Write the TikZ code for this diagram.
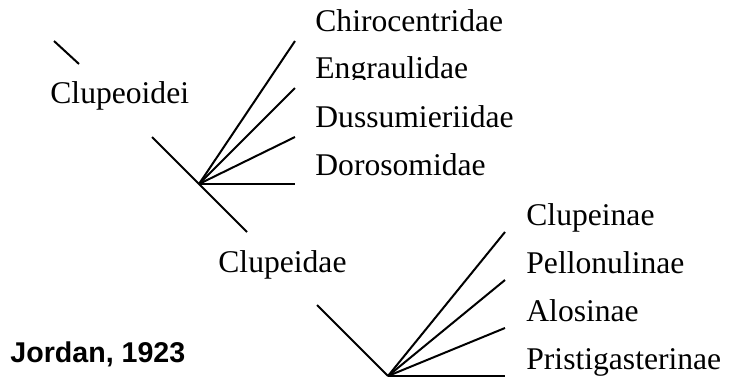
\documentclass[tikz,border=0pt]{standalone}
\usepackage{fontspec}
\setmainfont{Liberation Serif}
\newfontfamily\yearfont{Liberation Sans}
\tikzset{
  taxon/.style={anchor=base west,inner sep=0pt,font=\fontsize{15.8pt}{19pt}\selectfont},
  branch/.style={line width=1pt}
}

\begin{document}
\begin{tikzpicture}[x=0.5pt,y=-0.5pt]
\useasboundingbox (0,0) rectangle (730,381);
% suborder
\coordinate (tickA) at (54,41);
\coordinate (tickB) at (79,64);
\draw[branch] (tickA)--(tickB);
\node[taxon] (clupeoidei) at (50,103) {Clupeoidei};
% families
\coordinate (rootA) at (152,137);
\coordinate (forkA) at (199,184);
\coordinate (stemA) at (247,232);
\draw[branch] (rootA)--(forkA)--(stemA);
\foreach \y/\n in {41/chiro,88/engr,137/duss,184/doro}
  \draw[branch] (forkA)--(295,\y) coordinate (\n);
\node[taxon] (chirocentridae) at (315,31) {Chirocentridae};
\begin{scope}
\clip (300,40) rectangle (520,79);
\node[taxon] (engraulidae) at (315,78) {Engraulidae};
\end{scope}
\node[taxon] (dussumieriidae) at (315,127) {Dussumieriidae};
\node[taxon] (dorosomidae) at (315,175) {Dorosomidae};
% subfamilies
\node[taxon] (clupeidae) at (218,272) {Clupeidae};
\coordinate (rootB) at (317,305);
\coordinate (forkB) at (388,376);
\draw[branch] (rootB)--(forkB);
\foreach \y/\n in {232/clup,280/pell,328/alos,376/pris}
  \draw[branch] (forkB)--(505,\y) coordinate (\n);
\node[taxon] (clupeinae) at (526,225) {Clupeinae};
\node[taxon] (pellonulinae) at (526,273) {Pellonulinae};
\node[taxon] (alosinae) at (526,321) {Alosinae};
\node[taxon] (pristigasterinae) at (526,369) {Pristigasterinae};
\node[anchor=base west,inner sep=0pt,font=\yearfont\bfseries\fontsize{14.3pt}{17pt}\selectfont] (jordan) at (10,362) {Jordan, 1923};
\end{tikzpicture}
\end{document}
